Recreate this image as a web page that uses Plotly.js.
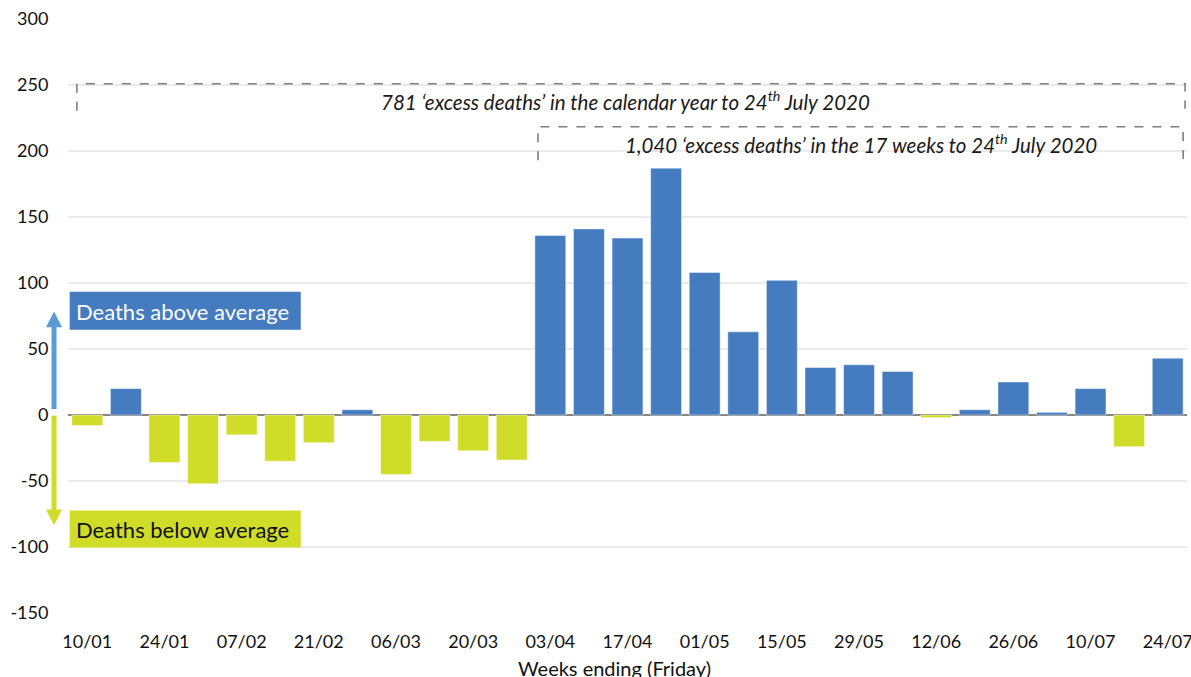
<!DOCTYPE html>
<html>
<head>
<meta charset="utf-8">
<script src="https://cdn.plot.ly/plotly-3.0.1.min.js"></script>
<style>html,body{margin:0;padding:0;background:#fff;}#chart{width:1191px;height:677px;}</style>
</head>
<body>
<div id="chart"></div>
<script>
const weeks = ["10/01","17/01","24/01","31/01","07/02","14/02","21/02","28/02","06/03","13/03","20/03","27/03",
  "03/04","10/04","17/04","24/04","01/05","08/05","15/05","22/05","29/05","05/06","12/06","19/06","26/06","03/07","10/07","17/07","24/07"];
const excessDeaths = [-8,20,-36,-52,-15,-35,-21,4,-45,-20,-27,-34,
  136,141,134,187,108,63,102,36,38,33,-2,4,25,2,20,-24,43];
const tickLabels = ["10/01","24/01","07/02","21/02","06/03","20/03","03/04","17/04","01/05","15/05","29/05","12/06","26/06","10/07","24/07"];
const yTicks = [-150,-100,-50,0,50,100,150,200,250,300];
const yTickText = ["-150","-100","-50","0","50","100","150","200","250","300"];

const BLUE = "#457bbf", YELLOW = "#cfdc28";
const FONT = "Lato, 'Liberation Sans', sans-serif";

const trace = {
  type: "bar",
  x: weeks,
  y: excessDeaths,
  marker: {
    color: excessDeaths.map(v => v >= 0 ? BLUE : YELLOW),
    line: {color: "rgba(255,255,255,0.45)", width: 1}
  },
  hoverinfo: "x+y"
};

const dash = {color: "#7f7f7f", width: 1.6, dash: "dash"};
const shapes = [
  {type: "path", xref: "x", yref: "y", path: "M -0.27,230.5 L -0.27,251 L 28.45,251 L 28.45,232", line: dash},
  {type: "path", xref: "x", yref: "y", path: "M 11.68,193 L 11.68,218.4 L 28.40,218.4 L 28.40,191", line: dash},
  {type: "rect", xref: "paper", yref: "y", x0: 0.0015, x1: 0.208, y0: 64.5, y1: 93.3, fillcolor: BLUE, line: {width: 0}, layer: "above"},
  {type: "rect", xref: "paper", yref: "y", x0: 0.0015, x1: 0.208, y0: -100.3, y1: -72.3, fillcolor: YELLOW, line: {width: 0}, layer: "above"},
  {type: "line", xref: "paper", yref: "y", x0: -0.0125, x1: -0.0125, y0: 4.5, y1: 67, line: {color: "#5b9bd5", width: 5}},
  {type: "path", xref: "paper", yref: "y", path: "M -0.0197,66.5 L -0.0053,66.5 L -0.0125,78.5 Z", fillcolor: "#5b9bd5", line: {width: 0}},
  {type: "line", xref: "paper", yref: "y", x0: -0.0125, x1: -0.0125, y0: -0.5, y1: -72, line: {color: YELLOW, width: 5}},
  {type: "path", xref: "paper", yref: "y", path: "M -0.0197,-71.5 L -0.0053,-71.5 L -0.0125,-83.5 Z", fillcolor: YELLOW, line: {width: 0}}
];

const annotations = [
  {xref: "paper", yref: "y", x: 0.4985, y: 238, xanchor: "center", yanchor: "middle", showarrow: false,
   text: "<i>781 ‘excess deaths’ in the calendar year to 24<sup>th</sup> July 2020</i>",
   font: {family: FONT, size: 20.5, color: "#1a1a1a"}},
  {xref: "paper", yref: "y", x: 0.7086, y: 206, xanchor: "center", yanchor: "middle", showarrow: false,
   text: "<i>1,040 ‘excess deaths’ in the 17 weeks to 24<sup>th</sup> July 2020</i>",
   font: {family: FONT, size: 20.5, color: "#1a1a1a"}},
  {xref: "paper", yref: "y", x: 0.0055, y: 78.5, xanchor: "left", yanchor: "middle", showarrow: false,
   text: "Deaths above average", font: {family: FONT, size: 22, color: "#ffffff"}},
  {xref: "paper", yref: "y", x: 0.0055, y: -86.5, xanchor: "left", yanchor: "middle", showarrow: false,
   text: "Deaths below average", font: {family: FONT, size: 22, color: "#111111"}},
  {xref: "paper", yref: "paper", x: 0.4888, y: -0.0926, xanchor: "center", yanchor: "middle", showarrow: false,
   text: "Weeks ending (Friday)", font: {family: FONT, size: 20, color: "#111111"}}
];

const layout = {
  width: 1191, height: 677,
  margin: {l: 68, r: 4, t: 19, b: 64},
  paper_bgcolor: "#ffffff", plot_bgcolor: "#ffffff",
  bargap: 0.2,
  showlegend: false,
  font: {family: FONT, size: 18, color: "#111111"},
  xaxis: {
    type: "category",
    tickmode: "array", tickvals: tickLabels, ticktext: tickLabels,
    tickangle: 0,
    ticks: "outside", ticklen: 12, tickcolor: "rgba(0,0,0,0)",
    showgrid: false, showline: false, zeroline: false,
    tickfont: {family: FONT, size: 18, color: "#111111"}
  },
  yaxis: {
    range: [-150, 300],
    tickmode: "array", tickvals: yTicks, ticktext: yTickText,
    ticks: "outside", ticklen: 15, tickcolor: "rgba(0,0,0,0)",
    showgrid: true, gridcolor: "#ebebeb", gridwidth: 1.5,
    zeroline: true, zerolinecolor: "#878787", zerolinewidth: 2.5,
    showline: false,
    tickfont: {family: FONT, size: 18, color: "#111111"}
  },
  shapes: shapes,
  annotations: annotations
};

Plotly.newPlot("chart", [trace], layout, {displayModeBar: false, staticPlot: true});
</script>
</body>
</html>
